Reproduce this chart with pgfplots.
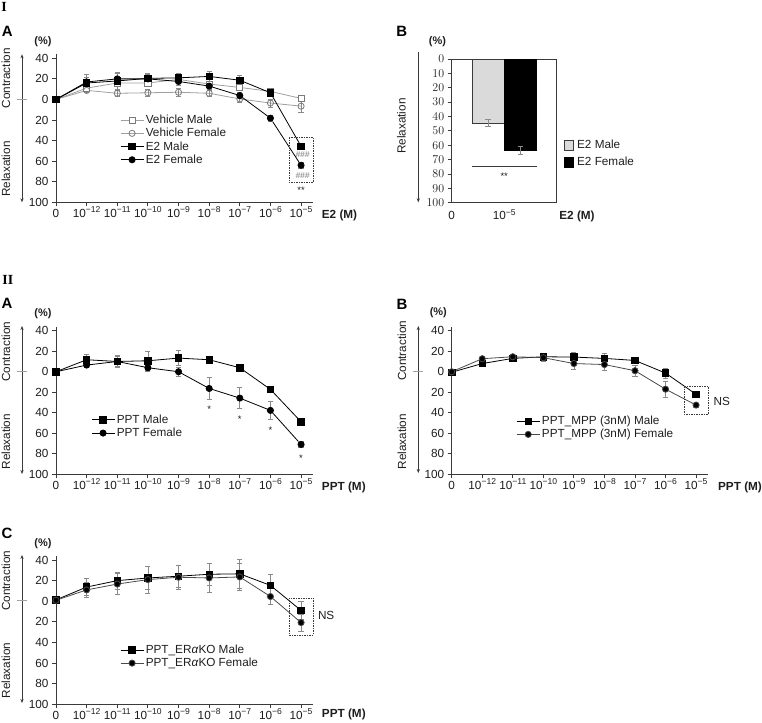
\documentclass[border=0pt]{standalone}
\usepackage{pgfplots}
\pgfplotsset{compat=1.18}
\usetikzlibrary{arrows.meta}
\usepackage{fontspec}
\setmainfont{Liberation Sans}
\newfontfamily\serifb{Liberation Serif}
\definecolor{axc}{HTML}{3A3A3A}
\definecolor{txc}{HTML}{1E1E1E}
\definecolor{erc}{HTML}{8A8A8A}
\definecolor{vehc}{HTML}{A0A0A0}
\definecolor{vehm}{HTML}{7A7A7A}
\definecolor{barg}{HTML}{DADADA}
\definecolor{femc}{HTML}{4A4A4A}
\newcommand\tf{\fontsize{11.8}{13}\selectfont}
\newcommand\tp[1]{10\raisebox{4.6bp}{\fontsize{8.6}{9}\selectfont −#1}}
\pgfplotsset{
  panel/.style={scale only axis, clip=false,
    axis x line*=bottom, axis y line*=left, tick align=outside,
    xmin=0, xmax=8.39, ymin=-100, ymax=44,
    xtick={0,...,8},
    xticklabels={0,\tp{12},\tp{11},\tp{10},\tp{9},\tp{8},\tp{7},\tp{6},\tp{5}},
    ytick={-100,-80,-60,-40,-20,0,20,40},
    yticklabels={100,80,60,40,20,0,20,40},
    major tick length=4bp,
    tick style={color=axc, line width=0.8bp},
    axis line style={color=axc, line width=1bp},
    ticklabel style={font=\tf, text=txc},
    xticklabel style={anchor=base, yshift=-11bp},
    legend cell align=left,
    legend image code/.code={\draw[mark repeat=2,mark phase=2,##1] plot coordinates {(0bp,0bp)(11.5bp,0bp)(23bp,0bp)};},
  },
  lgd/.style={legend style={draw=none, fill=none, font=\tf, text=txc, inner sep=0pt, row sep=0.6bp, nodes={inner xsep=1.8bp, inner ysep=1.3bp}, anchor=west}},
  ebar/.style={error bars/.cd, y dir=both, y explicit,
    error bar style={erc, line width=0.6bp},
    error mark options={erc, rotate=90, mark size=2.6bp, line width=0.6bp}},
  sqf/.style={black, line width=0.8bp, mark=square*, mark size=3.2bp, mark options={solid, fill=black}},
  cif/.style={black, line width=0.8bp, mark=*, mark size=3.1bp, mark options={solid, fill=black}},
}
\begin{document}
\begin{tikzpicture}
\useasboundingbox (0,0) rectangle (762bp,-723bp);

% ---------- I A ----------
\begin{axis}[panel, lgd, at={(56bp,-202.3bp)}, anchor=south west, width=257bp, height=148.1bp,
  legend style={at={(0.249,0.421)}}]
\addplot[vehc, line width=0.8bp, mark=square*, mark size=3.1bp, mark options={solid, fill=white, draw=vehm}, ebar]
 coordinates {(0,0) +- (0,0) (1,11) +- (0,3) (2,16) +- (0,3) (3,16) +- (0,3) (4,19.5) +- (0,3) (5,15) +- (0,3) (6,11.7) +- (0,3) (7,7.8) +- (0,3) (8,1) +- (0,2)};
\addlegendentry{Vehicle Male}
\addplot[vehc, line width=0.8bp, mark=o, mark size=3.1bp, mark options={solid, fill=white, draw=vehm}, ebar]
 coordinates {(0,0) +- (0,0) (1,8.8) +- (0,2) (2,6) +- (0,3) (3,6.5) +- (0,3) (4,7) +- (0,3.5) (5,6) +- (0,3) (6,0.5) +- (0,3) (7,-3.5) +- (0,4) (8,-6.5) +- (0,6)};
\addlegendentry{Vehicle Female}
\addplot[sqf, ebar]
 coordinates {(0,0) +- (0,0) (1,16) +- (0,8) (2,18) +- (0,8) (3,20.5) +- (0,5) (4,21) +- (0,4) (5,22.4) +- (0,5) (6,18.7) +- (0,5) (7,6.5) +- (0,3) (8,-45.5) +- (0,2)};
\addlegendentry{E2 Male}
\addplot[cif, ebar]
 coordinates {(0,0) +- (0,0) (1,17) +- (0,5) (2,20) +- (0,5) (3,20) +- (0,4) (4,17.5) +- (0,4) (5,13) +- (0,3) (6,3.8) +- (0,3) (7,-18.2) +- (0,3) (8,-64) +- (0,3)};
\addlegendentry{E2 Female}
\draw[axc, line width=0.6bp, dash pattern=on 1.5bp off 1bp] (axis cs:7.6,-36.8) rectangle (axis cs:8.4,-80.6);
\node[font=\fontsize{8.5}{8.5}\selectfont\itshape, text=vehm] at (axis cs:8.05,-53.4) {\#\#\#};
\node[font=\fontsize{8.5}{8.5}\selectfont\itshape, text=vehm] at (axis cs:8.05,-74.5) {\#\#\#};
\node[font=\fontsize{9.5}{9.5}\selectfont, text=txc] at (axis cs:8,-88) {**};
\end{axis}

% ---------- I B ----------
\begin{axis}[scale only axis, clip=false, at={(451.7bp,-202.7bp)}, anchor=south west, width=105bp, height=143.7bp,
  xmin=0, xmax=2, ymin=0, ymax=100, y dir=reverse,
  axis line style={color=axc, line width=1bp},
  xtick={0,1}, xticklabels={0,\tp{5}}, xtick style={draw=none},
  ytick={0,10,...,100}, ytick pos=left, tick align=outside,
  major tick length=4bp, ytick style={color=axc, line width=0.8bp},
  ticklabel style={font=\tf, text=txc},
  xticklabel style={anchor=base, yshift=-13bp},
  legend style={draw=none, fill=none, font=\tf, text=txc, inner sep=0pt, row sep=4bp, nodes={inner xsep=3.5bp, inner ysep=1.5bp}, at={(1.065,0.341)}, anchor=west},
  legend cell align=left]
\addplot[ybar, bar width=0.617, bar shift=0pt, fill=barg, draw=axc, line width=0.6bp, forget plot, ebar]
 coordinates {(0.6925,44.5) +- (0,2.5)};
\addplot[ybar, bar width=0.617, bar shift=0pt, fill=black, draw=black, line width=0.6bp, forget plot, ebar]
 coordinates {(1.3075,63.5) +- (0,3)};
\addlegendimage{legend image code/.code={\draw[fill=barg, draw=axc, line width=0.6bp] (0bp,-4.7bp) rectangle (9.3bp,4.7bp);}}
\addlegendentry{E2 Male}
\addlegendimage{legend image code/.code={\draw[fill=black, draw=black] (0bp,-4.7bp) rectangle (9.3bp,4.7bp);}}
\addlegendentry{E2 Female}
\draw[axc, line width=0.8bp] (axis cs:0.385,74.4) -- (axis cs:1.62,74.4);
\node[font=\fontsize{9.5}{9.5}\selectfont, text=txc] at (axis cs:1,81.5) {**};
\end{axis}

% ---------- II A ----------
\begin{axis}[panel, lgd, at={(56bp,-474.3bp)}, anchor=south west, width=257bp, height=147.7bp,
  legend style={at={(0.136,0.324)}}]
\addplot[sqf, ebar]
 coordinates {(0,0) +- (0,0) (1,11.7) +- (0,5) (2,10) +- (0,5) (3,10.7) +- (0,9) (4,13.3) +- (0,7.5) (5,11.7) +- (0,3) (6,3.9) +- (0,1.5) (7,-17.2) +- (0,3) (8,-48.8) +- (0,2)};
\addlegendentry{PPT Male}
\addplot[cif, ebar]
 coordinates {(0,0) +- (0,0) (1,6.5) +- (0,2) (2,10) +- (0,6) (3,3.9) +- (0,3) (4,0) +- (0,4) (5,-16.3) +- (0,10.5) (6,-25.7) +- (0,10.4) (7,-37.7) +- (0,9) (8,-70.9) +- (0,3)};
\addlegendentry{PPT Female}
\foreach \xx/\yy in {5/-37,6/-46,7/-57,8/-84.6}{
  \edef\tmp{\noexpand\node[font=\noexpand\fontsize{9.5}{9.5}\noexpand\selectfont, text=txc] at (axis cs:\xx,\yy) {*};}\tmp
}
\end{axis}

% ---------- II B ----------
\begin{axis}[panel, lgd, at={(451.7bp,-474.3bp)}, anchor=south west, width=256.6bp, height=147.7bp, xmax=8.40,
  legend style={at={(0.251,0.315)}}]
\addplot[sqf, ebar]
 coordinates {(0,-0.5) +- (0,0) (1,8) +- (0,2) (2,13) +- (0,2) (3,14.6) +- (0,3) (4,14.3) +- (0,5) (5,13) +- (0,5) (6,11) +- (0,2) (7,-1.3) +- (0,5) (8,-22) +- (0,3)};
\addlegendentry{PPT\_MPP (3nM) Male}
\addplot[cif, femc, ebar]
 coordinates {(0,0) +- (0,0) (1,12.7) +- (0,1) (2,14.6) +- (0,1.5) (3,13.7) +- (0,4) (4,8) +- (0,6) (5,7) +- (0,6) (6,1) +- (0,5) (7,-17) +- (0,8) (8,-32.5) +- (0,2)};
\addlegendentry{PPT\_MPP (3nM) Female}
\draw[axc, line width=0.6bp, dash pattern=on 1.5bp off 1bp] (axis cs:7.6,-14.2) rectangle (axis cs:8.4,-41.2);
\node[font=\tf, text=txc] at (axis cs:8.84,-28.5) {NS};
\end{axis}

% ---------- II C ----------
\begin{axis}[panel, lgd, at={(56bp,-704.3bp)}, anchor=south west, width=257bp, height=148.4bp,
  legend style={at={(0.249,0.322)}}]
\addplot[sqf, ebar]
 coordinates {(0,1.3) +- (0,0) (1,13.8) +- (0,8) (2,20) +- (0,8) (3,22.6) +- (0,11) (4,24.3) +- (0,11) (5,26.2) +- (0,11) (6,26.6) +- (0,14) (7,15.4) +- (0,11) (8,-8.9) +- (0,9)};
\addlegendentry{PPT\_ER\textit{α}KO Male}
\addplot[cif, femc, ebar]
 coordinates {(0,1) +- (0,0) (1,11) +- (0,7) (2,16.7) +- (0,10) (3,21) +- (0,13) (4,23.3) +- (0,12) (5,22.6) +- (0,14) (6,23.6) +- (0,13) (7,4.6) +- (0,8) (8,-20.7) +- (0,8)};
\addlegendentry{PPT\_ER\textit{α}KO Female}
\draw[axc, line width=0.6bp, dash pattern=on 1.5bp off 1bp] (axis cs:7.6,3.3) rectangle (axis cs:8.4,-32.8);
\node[font=\tf, text=txc] at (axis cs:8.82,-14) {NS};
\end{axis}

% ---------- annotations ----------
\tikzset{arr/.style={axc, line width=0.8bp}}
\node[font={\fontsize{14}{14}\selectfont\serifb\bfseries}] at (4bp,-7.2bp) {I};
\node[font={\fontsize{14}{14}\selectfont\serifb\bfseries}] at (7.8bp,-280bp) {II};
\foreach \lx/\ly/\lt in {7.2/31.3/A, 401.7/31.3/B, 7/303.3/A, 402/304/B, 7/533/C}{
  \node[font=\fontsize{15}{15}\selectfont\bfseries] at (\lx bp,-\ly bp) {\lt};
}
\foreach \lx/\ly in {43/41.7, 437.5/41.7, 43/314, 438.3/313, 43/544}{
  \node[font=\fontsize{11}{11}\selectfont\bfseries, text=txc] at (\lx bp,-\ly bp) {(\%)};
}
\node[font=\tf\bfseries, text=txc] at (339.5bp,-215.5bp) {E2 (M)};
\node[font=\tf\bfseries, text=txc] at (577bp,-216bp) {E2 (M)};
\node[font=\tf\bfseries, text=txc] at (343.8bp,-487.7bp) {PPT (M)};
\node[font=\tf\bfseries, text=txc] at (740bp,-487.7bp) {PPT (M)};
\node[font=\tf\bfseries, text=txc] at (343.8bp,-714bp) {PPT (M)};

\draw[arr, {Stealth[length=4bp,width=3.2bp]}-{Stealth[length=4bp,width=3.2bp]}] (22bp,-54.3bp) -- (22bp,-202.3bp);
\draw[vehc, line width=0.8bp] (17bp,-99.4bp) -- (27bp,-99.4bp);
\node[rotate=90, font=\tf, text=txc] at (6bp,-78.3bp) {Contraction};
\node[rotate=90, font=\tf, text=txc] at (6bp,-169.2bp) {Relaxation};

\draw[arr, -{Stealth[length=4bp,width=3.2bp]}] (418.3bp,-51.7bp) -- (418.3bp,-202.3bp);
\node[rotate=90, font=\tf, text=txc] at (401.3bp,-126.2bp) {Relaxation};

\draw[arr, {Stealth[length=4bp,width=3.2bp]}-{Stealth[length=4bp,width=3.2bp]}] (22bp,-326bp) -- (22bp,-474bp);
\draw[vehc, line width=0.8bp] (17bp,-371.7bp) -- (27bp,-371.7bp);
\node[rotate=90, font=\tf, text=txc] at (6bp,-351.7bp) {Contraction};
\node[rotate=90, font=\tf, text=txc] at (6bp,-441.7bp) {Relaxation};

\draw[arr, {Stealth[length=4bp,width=3.2bp]}-{Stealth[length=4bp,width=3.2bp]}] (418.3bp,-326bp) -- (418.3bp,-473bp);
\draw[vehc, line width=0.8bp] (413bp,-371.7bp) -- (423bp,-371.7bp);
\node[rotate=90, font=\tf, text=txc] at (402bp,-350.8bp) {Contraction};
\node[rotate=90, font=\tf, text=txc] at (402bp,-441.7bp) {Relaxation};

\draw[arr, {Stealth[length=4bp,width=3.2bp]}-{Stealth[length=4bp,width=3.2bp]}] (22bp,-555bp) -- (22bp,-703bp);
\draw[vehc, line width=0.8bp] (17bp,-600.7bp) -- (27bp,-600.7bp);
\node[rotate=90, font=\tf, text=txc] at (6bp,-580.8bp) {Contraction};
\node[rotate=90, font=\tf, text=txc] at (6bp,-670.5bp) {Relaxation};
\end{tikzpicture}
\end{document}
